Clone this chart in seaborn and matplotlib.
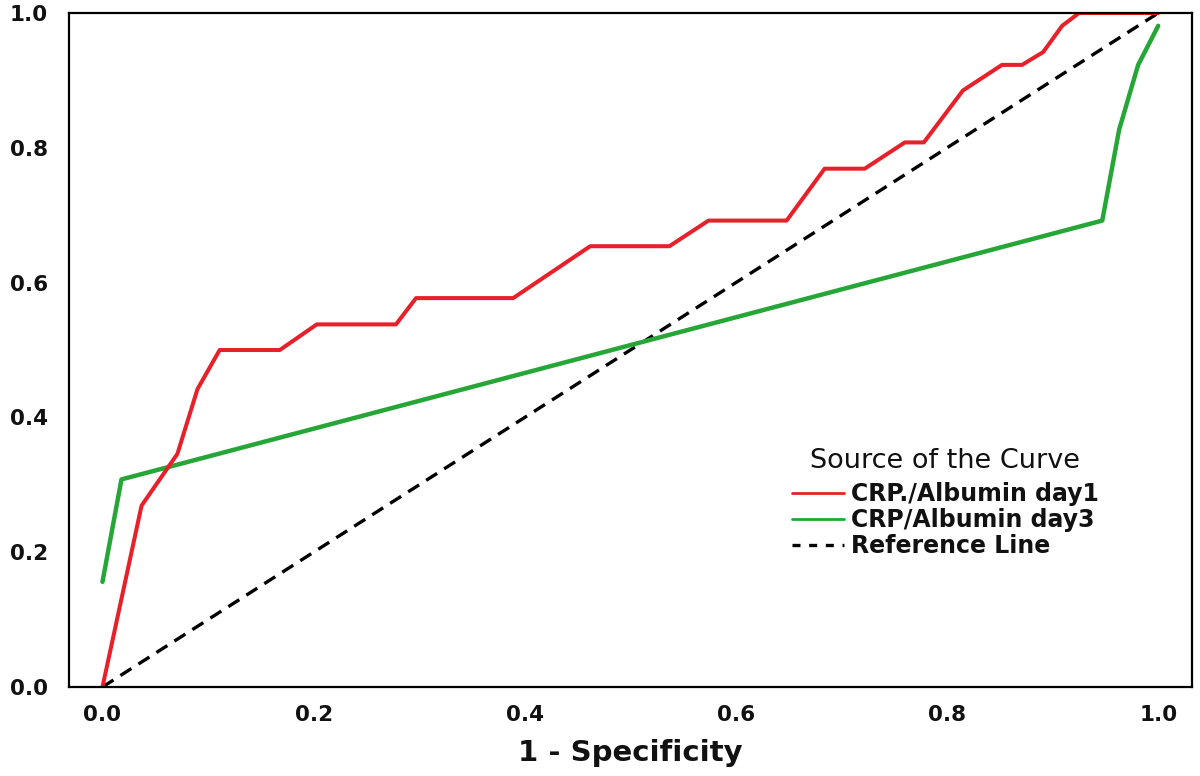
import matplotlib
matplotlib.use("Agg")
import matplotlib.pyplot as plt
import seaborn as sns
import pandas as pd
from matplotlib.lines import Line2D

# ---- data ----
day1_fpr = [0.0, 0.037, 0.071, 0.090, 0.111, 0.168, 0.203, 0.278, 0.297, 0.389,
            0.462, 0.537, 0.574, 0.648, 0.684, 0.722, 0.760, 0.778, 0.815, 0.852,
            0.871, 0.891, 0.909, 0.925, 1.0]
day1_tpr = [0.0, 0.269, 0.346, 0.442, 0.500, 0.500, 0.538, 0.538, 0.577, 0.577,
            0.654, 0.654, 0.692, 0.692, 0.769, 0.769, 0.808, 0.808, 0.885, 0.923,
            0.923, 0.942, 0.981, 1.0, 1.0]
day3_fpr = [0.0, 0.018, 0.947, 0.963, 0.981, 1.0]
day3_tpr = [0.156, 0.308, 0.692, 0.827, 0.923, 0.981]
ref_x = [0.0, 1.0]
ref_y = [0.0, 1.0]

x_ticks = [0.0, 0.2, 0.4, 0.6, 0.8, 1.0]
y_ticks = [0.0, 0.2, 0.4, 0.6, 0.8, 1.0]
tick_labels = ["0.0", "0.2", "0.4", "0.6", "0.8", "1.0"]

label_day1 = "CRP./Albumin day1"
label_day3 = "CRP/Albumin day3"
label_ref = "Reference Line"
legend_title = "Source of the Curve"
x_title = "1 - Specificity"

red = "#e8202a"
green = "#26a637"

sns.set_theme(style="white")
plt.rcParams["font.family"] = ["DejaVu Sans"]

fig = plt.figure(figsize=(12, 7.76), dpi=100)
ax = fig.add_axes([69 / 1200, 1 - 687 / 776, (1192 - 69) / 1200, (687 - 13) / 776])

df1 = pd.DataFrame({"x": day1_fpr, "y": day1_tpr})
df3 = pd.DataFrame({"x": day3_fpr, "y": day3_tpr})
dfr = pd.DataFrame({"x": ref_x, "y": ref_y})

sns.lineplot(data=dfr, x="x", y="y", ax=ax, color="black", lw=2.4,
             sort=False, estimator=None, dashes=False, legend=False)
ax.lines[-1].set_dashes((3.9, 2.5))
sns.lineplot(data=df3, x="x", y="y", ax=ax, color=green, lw=3.2,
             sort=False, estimator=None, legend=False)
sns.lineplot(data=df1, x="x", y="y", ax=ax, color=red, lw=2.9,
             sort=False, estimator=None, legend=False)

ax.set_xlim(-0.0317, 1.032)
ax.set_ylim(0.0, 1.0)
ax.set_xticks(x_ticks)
ax.set_xticklabels(tick_labels)
ax.set_yticks(y_ticks)
ax.set_yticklabels(tick_labels)
ax.tick_params(axis="x", direction="out", length=9, width=1.6, color="black",
               pad=4, labelsize=15.5, labelcolor="#111111")
ax.tick_params(axis="y", direction="out", length=12, width=1.6, color="black",
               pad=3, labelsize=15.5, labelcolor="#111111")
for lab in ax.get_xticklabels() + ax.get_yticklabels():
    lab.set_fontweight("bold")
for sp in ax.spines.values():
    sp.set_visible(True)
    sp.set_color("black")
    sp.set_linewidth(1.6)

ax.set_xlabel(x_title, fontsize=21, fontweight="bold", labelpad=10, color="#111111")
ax.set_ylabel("")

handles = [Line2D([], [], color=red, lw=2.0),
           Line2D([], [], color=green, lw=2.0),
           Line2D([], [], color="black", lw=2.4, dashes=(2.4, 2.6))]
leg = ax.legend(handles, [label_day1, label_day3, label_ref],
                title=legend_title, frameon=False, loc="upper left",
                bbox_to_anchor=(0.633, 0.372), borderpad=0,
                handlelength=2.2, handletextpad=0.3, labelspacing=0.08,
                prop={"size": 17, "weight": "bold"}, title_fontsize=19.5)
leg.get_title().set_color("#111111")
leg._legend_box.sep = 6
for t in leg.get_texts():
    t.set_color("#111111")

fig.savefig("out.png", dpi=100, facecolor="white")
